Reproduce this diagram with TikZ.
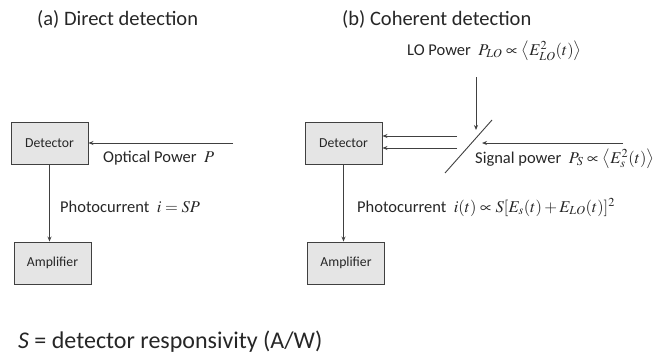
\documentclass[tikz,border=0pt]{standalone}
\usepackage{mathptmx}
\usepackage{fontspec}
\setmainfont{Carlito}
\usetikzlibrary{arrows.meta}
\begin{document}
\begin{tikzpicture}[x=1pt,y=-1pt,
  box/.style={draw=black!75,fill=black!10,line width=0.9pt,minimum width=77pt,minimum height=42pt,inner sep=0pt,font=\fontsize{13.7}{16}\selectfont,text=black!85},
  lbl/.style={anchor=west,inner sep=0pt,font=\fontsize{16.5}{19}\selectfont,text=black!85},
  ttl/.style={anchor=west,inner sep=0pt,font=\fontsize{20.5}{24}\selectfont,text=black!85},
  arr/.style={draw=black!75,line width=0.9pt,-{Stealth[length=5pt,width=4pt]}},
  ln/.style={draw=black!75,line width=0.9pt}]
\useasboundingbox (0,0) rectangle (664,356);
% (a)
\node[ttl] (ta) at (37,19) {(a) Direct detection};
\node[box] (det1) at (49.5,143) {Detector};
\node[box] (amp1) at (52.5,263) {Amplifier};
\coordinate (src1) at (233,143);
\draw[arr] (src1) -- (det1.east);
\draw[arr] (det1.south) -- (det1.south |- amp1.north);
\node[lbl] (op) at (103,158) {Optical Power \ $P$};
\node[lbl] (pc1) at (60,207) {Photocurrent \ $i = SP$};
\node[anchor=west,inner sep=0pt,font=\fontsize{24}{28}\selectfont,text=black!85] (resp) at (18,342) {\textit{S} = detector responsivity (A/W)};
% (b)
\node[ttl] (tb) at (342,19) {(b) Coherent detection};
\node[box] (det2) at (343.5,143) {Detector};
\node[box] (amp2) at (346,263) {Amplifier};
\node[lbl] (lo) at (407,51) {LO Power \ $P_{LO}\propto\bigl\langle E_{LO}^2(t)\bigr\rangle$};
\coordinate (lo1) at (476,77);
\coordinate (lo2) at (476,130);
\draw[arr] (lo1) -- (lo2);
\coordinate (bs1) at (445,173);
\coordinate (bs2) at (492,120);
\draw[ln] (bs1) -- (bs2);
\coordinate (sg1) at (623,143);
\coordinate (sg2) at (482,143);
\draw[arr] (sg1) -- (sg2);
\coordinate (o1) at (457,136);
\coordinate (o2) at (457,148);
\draw[arr] (o1) -- (o1 -| det2.east);
\draw[arr] (o2) -- (o2 -| det2.east);
\node[lbl] (sp) at (475,159) {Signal power \ $P_S\propto\bigl\langle E_s^2(t)\bigr\rangle$};
\draw[arr] (det2.south) -- (det2.south |- amp2.north);
\node[lbl] (pc2) at (357,207) {Photocurrent \ $i(t)\propto S[E_s(t)+E_{LO}(t)]^2$};
\end{tikzpicture}
\end{document}
